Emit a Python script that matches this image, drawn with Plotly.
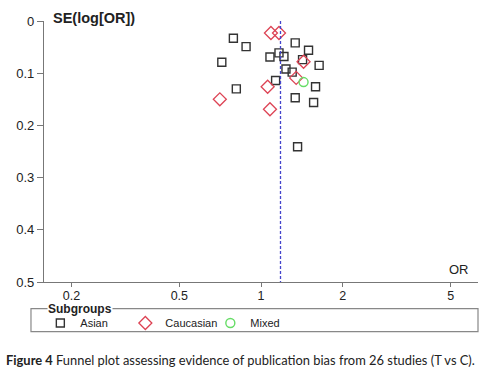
import plotly.graph_objects as go

# Data
asian_or = [0.791, 0.881, 0.717, 1.079, 1.165, 1.215, 1.337, 1.497, 1.423, 1.638,
            1.236, 1.303, 1.132, 0.811, 1.589, 1.337, 1.563, 1.364]
asian_se = [0.033, 0.049, 0.079, 0.069, 0.061, 0.068, 0.042, 0.056, 0.074, 0.085,
            0.092, 0.098, 0.114, 0.130, 0.126, 0.147, 0.156, 0.241]
cauc_or = [1.088, 1.165, 1.435, 1.348, 1.058, 0.705, 1.079]
cauc_se = [0.023, 0.023, 0.078, 0.109, 0.126, 0.150, 0.169]
mixed_or = [1.435]
mixed_se = [0.117]
pooled_or = 1.18
x_ticks = [0.2, 0.5, 1, 2, 5]
x_ticklabels = ["0.2", "0.5", "1", "2", "5"]
y_ticks = [0, 0.1, 0.2, 0.3, 0.4, 0.5]
y_ticklabels = ["0", "0.1", "0.2", "0.3", "0.4", "0.5"]

FONT = "Liberation Sans, Arial, sans-serif"

fig = go.Figure()
fig.add_trace(go.Scatter(
    x=asian_or, y=asian_se, mode="markers", name="Asian",
    marker=dict(symbol="square-open", size=8, color="#333333", line=dict(width=1.4)),
))
fig.add_trace(go.Scatter(
    x=cauc_or, y=cauc_se, mode="markers", name="Caucasian",
    marker=dict(symbol="diamond-open", size=10, color="#dd4455", line=dict(width=1.3)),
))
fig.add_trace(go.Scatter(
    x=mixed_or, y=mixed_se, mode="markers", name="Mixed",
    marker=dict(symbol="circle-open", size=9, color="#66dd66", line=dict(width=1.4)),
))
fig.add_trace(go.Scatter(
    x=[pooled_or, pooled_or], y=[0, 0.5], mode="lines", showlegend=False,
    line=dict(color="#4444cc", width=1.3, dash="3px,2px"), hoverinfo="skip",
))

fig.update_layout(
    width=486, height=370,
    margin=dict(l=44, r=8, t=21, b=88, autoexpand=False),
    paper_bgcolor="white", plot_bgcolor="white",
    font=dict(family=FONT, size=13, color="#222222"),
    xaxis=dict(
        type="log", range=[-0.8, 0.8], tickvals=x_ticks, ticktext=x_ticklabels,
        showline=True, linecolor="#777777", linewidth=1.2, ticks="outside",
        ticklen=4, tickcolor="#777777", showgrid=False, zeroline=False,
        tickfont=dict(size=12.5), automargin=False, ticklabelstandoff=-2,
    ),
    yaxis=dict(
        range=[0.5, 0], tickvals=y_ticks, ticktext=y_ticklabels,
        showline=True, linecolor="#777777", linewidth=1.2, ticks="outside",
        ticklen=6, tickcolor="#777777", showgrid=False, zeroline=False,
        automargin=False,
    ),
    legend=dict(
        orientation="h", x=0.083, xref="container", y=0.127, yref="container",
        xanchor="left", yanchor="middle", entrywidth=40,
        font=dict(size=11, family=FONT), itemwidth=30, bgcolor="rgba(0,0,0,0)",
    ),
    shapes=[
        dict(type="rect", xref="paper", yref="paper", x0=-0.03, x1=1.0,
             y0=-0.19, y1=-0.102, line=dict(color="#888888", width=1.2)),
    ],
    annotations=[
        dict(text="<b>SE(log[OR])</b>", x=0.016, y=1.011, xref="paper", yref="paper",
             xanchor="left", yanchor="middle",
             showarrow=False, font=dict(size=14.5, family=FONT)),
        dict(text="OR", xref="paper", yref="paper", x=0.956, y=0.046,
             xanchor="center", yanchor="middle", showarrow=False, font=dict(size=13)),
        dict(text="<b>Subgroups</b>", xref="paper", yref="paper", x=0.008, y=-0.104,
             xanchor="left", yanchor="middle", showarrow=False, bgcolor="white",
             borderpad=0, font=dict(size=12, family=FONT)),
        dict(text="<b>Figure 4</b> Funnel plot assessing evidence of publication bias from 26 studies (T vs C).",
             xref="paper", yref="paper", x=-0.092, y=-0.297, xanchor="left",
             yanchor="middle", showarrow=False,
             font=dict(size=12.9, family="Lato, sans-serif", color="#222222")),
    ],
)

fig.write_html("out.html", config={"displayModeBar": False},
               post_script="document.body.style.margin='0';")
